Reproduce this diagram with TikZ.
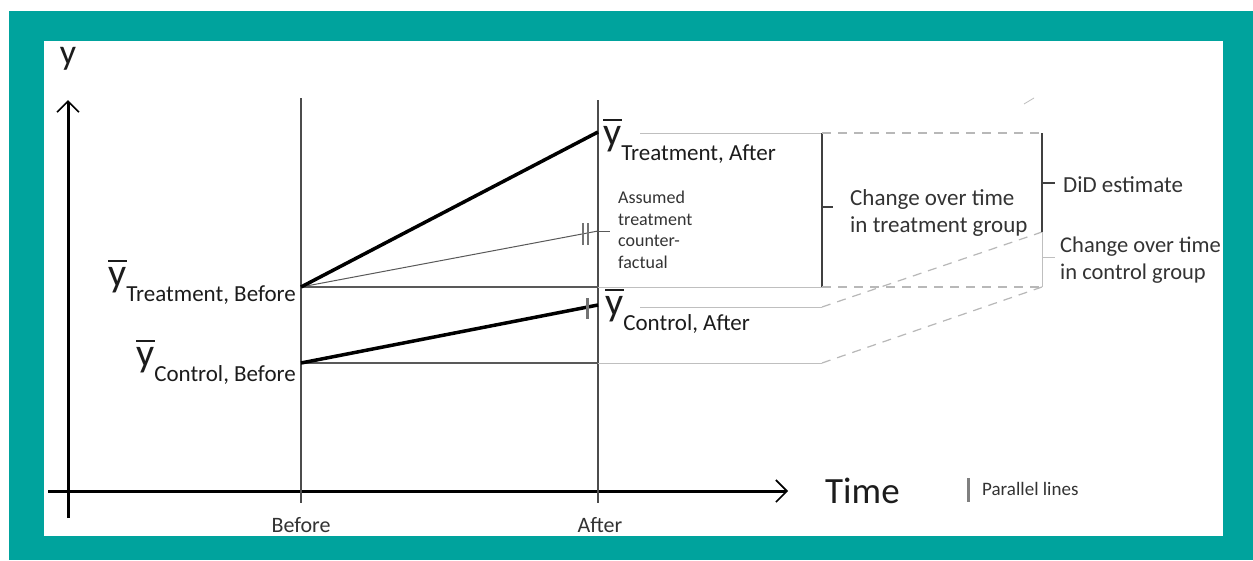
\documentclass[tikz,border=0pt]{standalone}
\usepackage{fontspec}
\setmainfont{Carlito}
\usetikzlibrary{arrows.meta}

\definecolor{frameteal}{HTML}{00A39D}
\definecolor{ink}{HTML}{1C1C1C}
\definecolor{softink}{HTML}{333333}

% y with a bar over it, followed by a lowered group name
\newcommand\ybarglyph{\rlap{\rule[0.6em]{0.46em}{0.05em}}y}
\newcommand\meanlabel[1]{{\fontsize{40}{40}\selectfont\ybarglyph}\raisebox{-15pt}{\fontsize{23}{23}\selectfont #1}}

\tikzset{
  axisline/.style={line width=3pt, draw=black, -{Straight Barb[length=11pt,width=22pt,line width=1.6pt]}},
  timeline/.style={line width=1.4pt, draw=black!70},
  trend/.style={line width=3.5pt, draw=black},
  counterline/.style={line width=1pt, draw=black!65},
  guide/.style={line width=1.3pt, draw=black!65},
  faint/.style={line width=1pt, draw=black!25},
  dashline/.style={line width=1.2pt, draw=black!28, dash pattern=on 9pt off 7pt},
  bracket/.style={line width=2pt, draw=black!75},
  parmark/.style={line width=2pt, draw=black!55},
  lbl/.style={inner sep=0pt, text=ink},
  note/.style={inner sep=0pt, text=softink, align=left},
}

\begin{document}
\begin{tikzpicture}[x=1pt, y=-1pt]
  % page, teal frame and white panel
  \useasboundingbox (0,0) rectangle (1253,560);
  \fill[white] (0,0) rectangle (1253,560);
  \fill[frameteal] (9,11) rectangle (1253,560);
  \fill[white] (44,41) rectangle (1223,536);

  % key points
  \coordinate (origin) at (68,518);
  \coordinate (ytop) at (68,100);
  \coordinate (xstart) at (48,491);
  \coordinate (xend) at (788,491);
  \coordinate (bftop) at (301,98);
  \coordinate (bfbot) at (301,503);
  \coordinate (aftop) at (598,100);
  \coordinate (afbot) at (598,503);
  \coordinate (tb) at (301,287);
  \coordinate (ta) at (598,132);
  \coordinate (cb) at (301,363);
  \coordinate (ca) at (598,305);
  \coordinate (cf) at (598,231);
  \coordinate (cfend) at (610,231);
  \coordinate (tbafter) at (598,287);
  \coordinate (cbafter) at (598,363);
  \coordinate (tbbox) at (822,287);
  \coordinate (cbbox) at (822,363);
  \coordinate (tatop) at (640,133);
  \coordinate (tabox) at (822,133);
  \coordinate (catop) at (640,307);
  \coordinate (cabox) at (822,307);
  \coordinate (tatick) at (833,207);
  \coordinate (tamid) at (822,207);
  \coordinate (didtop) at (1042,133);
  \coordinate (didbot) at (1042,232);
  \coordinate (didmid) at (1042,183);
  \coordinate (didtick) at (1055,183);
  \coordinate (ctlbot) at (1042,287);
  \coordinate (ctlmid) at (1042,257);
  \coordinate (ctltick) at (1055,257);

  % axes
  \draw[axisline] (origin) -- (ytop);
  \draw[axisline] (xstart) -- (xend);
  \node[lbl, anchor=base, font=\fontsize{36}{36}\selectfont] (ylab) at (68,64) {y};
  \node[lbl, anchor=base west, font=\fontsize{37}{37}\selectfont] (timelab) at (825,503) {Time};

  % before / after
  \draw[timeline] (bftop) -- (bfbot);
  \draw[timeline] (aftop) -- (afbot);
  \node[lbl, text=softink, font=\fontsize{22}{22}\selectfont] (beforelab) at (301,525) {Before};
  \node[lbl, text=softink, font=\fontsize{22}{22}\selectfont] (afterlab) at (600,525) {After};

  % baseline levels
  \draw[guide] (tb) -- (tbafter);
  \draw[guide] (cb) -- (cbafter);
  \draw[faint] (tbafter) -- (tbbox);
  \draw[faint] (cbafter) -- (cbbox);
  \draw[faint] (tatop) -- (tabox);
  \draw[faint] (catop) -- (cabox);

  % trends
  \draw[counterline] (tb) -- (cf);
  \draw[counterline] (cf) -- (cfend);
  \draw[trend] (tb) -- (ta);
  \draw[trend] (cb) -- (ca);

  % parallel-line marks
  \draw[parmark] (583,223) -- (583,245);
  \draw[parmark] (588,223) -- (588,245);
  \draw[parmark, line width=3pt] (587,298) -- (587,319);

  % group means
  \node[lbl, anchor=base west] (ytaft) at (603,145) {\meanlabel{Treatment, After}};
  \node[lbl, anchor=base east] (ytbef) at (296,286) {\meanlabel{Treatment, Before}};
  \node[lbl, anchor=base east] (ycbef) at (296,366) {\meanlabel{Control, Before}};
  \node[lbl, anchor=base west] (ycaft) at (605,315) {\meanlabel{Control, After}};

  \node[note, anchor=north west, font=\fontsize{18}{21.5}\selectfont] (cflab) at (618,191)
    {Assumed\\treatment\\counter-\\factual};

  % change in treatment group
  \draw[bracket] (tabox) -- (tbbox);
  \draw[bracket] (tamid) -- (tatick);
  \node[note, anchor=north west, font=\fontsize{23}{27}\selectfont] (trlab) at (850,189)
    {Change over time\\in treatment group};

  % control change carried up to the treatment level
  \draw[dashline] (tabox) -- (didtop);
  \draw[dashline] (tbbox) -- (ctlbot);
  \draw[dashline] (cabox) -- (didbot);
  \draw[dashline] (cbbox) -- (ctlbot);
  \draw[faint, line width=0.8pt] (1024,104) -- (1034,98);

  % difference-in-differences
  \draw[bracket] (didtop) -- (didbot);
  \draw[bracket] (didmid) -- (didtick);
  \node[note, anchor=west, font=\fontsize{23}{23}\selectfont] (didlab) at (1063,185) {DiD estimate};

  \draw[faint] (didbot) -- (ctlbot);
  \draw[faint] (ctlmid) -- (ctltick);
  \node[note, anchor=north west, font=\fontsize{22.5}{27}\selectfont] (ctllab) at (1060,237)
    {Change over time\\in control group};

  % legend
  \coordinate (legtop) at (968,478);
  \coordinate (legbot) at (968,502);
  \draw[parmark, line width=3pt, draw=black!50] (legtop) -- (legbot);
  \node[note, anchor=west, font=\fontsize{19}{19}\selectfont] (leglab) at (982,489) {Parallel lines};
\end{tikzpicture}
\end{document}
